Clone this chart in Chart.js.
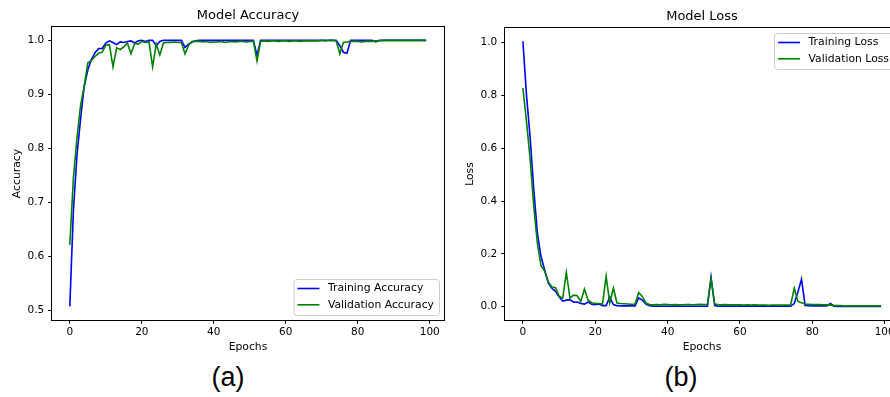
<!DOCTYPE html>
<html>
<head>
<meta charset="utf-8">
<script src="https://cdn.jsdelivr.net/npm/chart.js@4"></script>
<style>
html, body { margin: 0; padding: 0; background: #fff; overflow: hidden; }
body { width: 890px; height: 397px; position: relative; }
canvas { position: absolute; top: 0; }
#accChart { left: 0; }
#lossChart { left: 445px; }
.cap { position: absolute; top: 364px; font-family: 'Liberation Sans'; font-size: 27px; line-height: 27px; transform: translateX(-50%); color: #000; }
</style>
</head>
<body>
<canvas id="accChart" width="450" height="360" style="width:450px;height:360px"></canvas>
<canvas id="lossChart" width="460" height="360" style="width:460px;height:360px"></canvas>
<div class="cap" style="left:228px">(a)</div>
<div class="cap" style="left:681px">(b)</div>
<script>
// epochs 0..99
var epochs = Array.from({ length: 100 }, (_, i) => i);

var trainAcc = [
  0.507, 0.685, 0.788, 0.855, 0.915, 0.945, 0.965, 0.977, 0.985, 0.985,
  0.995, 0.999, 0.996, 0.992, 0.997, 0.996, 0.998, 0.999, 0.995, 0.999,
  1.000, 0.998, 1.000, 1.000, 0.990, 0.998, 1.000, 1.000, 1.000, 1.000,
  1.000, 1.000, 0.987, 0.993, 0.997, 0.999, 1.000, 1.000, 1.000, 1.000,
  1.000, 1.000, 1.000, 1.000, 1.000, 1.000, 1.000, 1.000, 1.000, 1.000,
  1.000, 1.000, 0.972, 1.000, 1.000, 1.000, 1.000, 1.000, 1.000, 1.000,
  1.000, 1.000, 1.000, 1.000, 1.000, 1.000, 1.000, 1.000, 1.000, 1.000,
  1.000, 1.000, 1.000, 1.000, 1.000, 0.990, 0.978, 0.976, 1.000, 1.000,
  1.000, 1.000, 1.000, 1.000, 1.000, 0.997, 1.000, 1.000, 1.000, 1.000,
  1.000, 1.000, 1.000, 1.000, 1.000, 1.000, 1.000, 1.000, 1.000, 1.000
];
var valAcc = [
  0.621, 0.745, 0.820, 0.880, 0.915, 0.958, 0.963, 0.970, 0.976, 0.978,
  0.991, 0.992, 0.951, 0.986, 0.983, 0.988, 0.995, 0.975, 0.994, 0.993,
  0.998, 0.996, 0.997, 0.951, 0.993, 0.973, 0.995, 0.996, 0.996, 0.997,
  0.996, 0.996, 0.975, 0.991, 0.998, 0.998, 0.998, 0.997, 0.998, 0.996,
  0.997, 0.997, 0.998, 0.996, 0.997, 0.998, 0.997, 0.998, 0.998, 0.997,
  0.998, 0.998, 0.962, 0.998, 0.999, 0.998, 0.999, 0.999, 0.998, 0.999,
  0.999, 0.998, 0.999, 0.999, 0.998, 0.999, 0.999, 0.999, 0.999, 0.999,
  1.000, 0.999, 1.000, 1.000, 0.999, 0.975, 0.996, 0.997, 0.998, 0.998,
  0.998, 0.997, 0.998, 0.998, 0.998, 0.999, 0.999, 1.000, 1.000, 1.000,
  1.000, 1.000, 1.000, 1.000, 1.000, 1.000, 1.000, 1.000, 1.000, 1.000
];
var trainLoss = [
  1.005, 0.800, 0.640, 0.445, 0.280, 0.190, 0.140, 0.090, 0.070, 0.058,
  0.038, 0.021, 0.025, 0.027, 0.017, 0.018, 0.012, 0.010, 0.018, 0.009,
  0.008, 0.010, 0.004, 0.004, 0.036, 0.008, 0.004, 0.003, 0.003, 0.003,
  0.003, 0.003, 0.033, 0.025, 0.010, 0.004, 0.002, 0.002, 0.002, 0.002,
  0.002, 0.002, 0.002, 0.002, 0.002, 0.002, 0.002, 0.002, 0.002, 0.002,
  0.002, 0.002, 0.112, 0.004, 0.002, 0.002, 0.002, 0.002, 0.002, 0.002,
  0.002, 0.002, 0.002, 0.002, 0.002, 0.002, 0.002, 0.002, 0.002, 0.002,
  0.002, 0.002, 0.002, 0.002, 0.002, 0.012, 0.055, 0.104, 0.005, 0.004,
  0.003, 0.003, 0.003, 0.003, 0.003, 0.012, 0.002, 0.001, 0.001, 0.001,
  0.001, 0.001, 0.001, 0.001, 0.001, 0.001, 0.001, 0.001, 0.001, 0.001
];
var valLoss = [
  0.828, 0.700, 0.560, 0.380, 0.240, 0.155, 0.135, 0.095, 0.075, 0.072,
  0.040, 0.032, 0.130, 0.033, 0.044, 0.042, 0.020, 0.067, 0.025, 0.015,
  0.012, 0.012, 0.010, 0.115, 0.014, 0.071, 0.014, 0.012, 0.011, 0.010,
  0.009, 0.010, 0.054, 0.039, 0.014, 0.008, 0.007, 0.008, 0.007, 0.009,
  0.008, 0.007, 0.008, 0.007, 0.007, 0.008, 0.008, 0.007, 0.008, 0.009,
  0.008, 0.009, 0.105, 0.010, 0.008, 0.007, 0.008, 0.007, 0.007, 0.007,
  0.007, 0.006, 0.007, 0.006, 0.007, 0.006, 0.006, 0.006, 0.005, 0.006,
  0.006, 0.006, 0.006, 0.006, 0.007, 0.070, 0.020, 0.015, 0.010, 0.009,
  0.008, 0.008, 0.008, 0.007, 0.007, 0.006, 0.004, 0.004, 0.004, 0.003,
  0.003, 0.003, 0.003, 0.003, 0.003, 0.003, 0.003, 0.003, 0.003, 0.003
];

var epochTicks = [0, 20, 40, 60, 80, 100];
var accTicks = [0.5, 0.6, 0.7, 0.8, 0.9, 1.0];
var lossTicks = [0.0, 0.2, 0.4, 0.6, 0.8, 1.0];

var FONT = 'DejaVu Sans';
Chart.defaults.color = '#000';
Chart.defaults.font.family = FONT;

function points(ys) {
  return epochs.map((e, i) => ({ x: e, y: ys[i] }));
}

// frame round the plot, title over it and a matplotlib style legend
var panelDecor = {
  id: 'panelDecor',
  afterDraw(chart, args, opts) {
    var ctx = chart.ctx, a = chart.chartArea;
    ctx.save();
    ctx.strokeStyle = '#000';
    ctx.lineWidth = 1;
    ctx.strokeRect(a.left - 0.5, a.top - 0.5, a.right - a.left + 1, a.bottom - a.top + 1);

    ctx.fillStyle = '#000';
    ctx.font = '13px ' + FONT;
    ctx.textAlign = 'center';
    ctx.textBaseline = 'middle';
    ctx.fillText(opts.title, (a.left + a.right) / 2, opts.titleY);

    // legend
    var sets = chart.data.datasets;
    ctx.font = '10.8px ' + FONT;
    var textW = Math.max.apply(null, sets.map(d => ctx.measureText(d.label).width));
    var pad = 4, handle = 22, gap = 8.5, rowH = 16.3;
    var w = pad + handle + gap + textW + 5;
    var h = 36;
    var bx = a.right - 5 - w;
    var by = opts.legendAt === 'upper' ? a.top + 5 : a.bottom - 5 - h;
    ctx.beginPath();
    ctx.roundRect(bx + 0.5, by + 0.5, w, h, 3);
    ctx.fillStyle = 'rgba(255,255,255,0.8)';
    ctx.fill();
    ctx.strokeStyle = '#cccccc';
    ctx.stroke();
    ctx.textAlign = 'left';
    sets.forEach((d, i) => {
      var cy = by + 9.5 + i * rowH;
      ctx.strokeStyle = d.borderColor;
      ctx.lineWidth = 1.6;
      ctx.beginPath();
      ctx.moveTo(bx + pad, cy);
      ctx.lineTo(bx + pad + handle, cy);
      ctx.stroke();
      ctx.fillStyle = '#000';
      ctx.fillText(d.label, bx + pad + handle + gap, cy);
    });
    ctx.restore();
  }
};

function makePanel(id, p) {
  return new Chart(document.getElementById(id), {
    type: 'line',
    data: {
      datasets: [
        { label: p.labels[0], data: points(p.train), borderColor: '#0000ff', borderWidth: 1.6, pointRadius: 0, fill: false, order: 1 },
        { label: p.labels[1], data: points(p.val), borderColor: '#008000', borderWidth: 1.6, pointRadius: 0, fill: false, order: 0 }
      ]
    },
    options: {
      responsive: false,
      animation: false,
      devicePixelRatio: 1,
      layout: { padding: { top: p.top, right: p.right, left: 0, bottom: 0 } },
      plugins: {
        legend: { display: false },
        tooltip: { enabled: false },
        panelDecor: { title: p.title, titleY: p.titleY, legendAt: p.legendAt }
      },
      scales: {
        x: {
          type: 'linear',
          min: -4.95,
          max: 103.95,
          afterBuildTicks: s => { s.ticks = epochTicks.map(v => ({ value: v })); },
          afterFit: s => { s.height = 40; },
          grid: { drawOnChartArea: false, color: '#000', tickLength: 3.8 },
          border: { display: false },
          ticks: { padding: 2, font: { size: 10.5 }, maxRotation: 0, callback: v => String(v) },
          title: { display: true, text: 'Epochs', font: { size: 10.8 }, padding: { top: 0, bottom: 6.5 } }
        },
        y: {
          min: p.yMin,
          max: p.yMax,
          afterBuildTicks: s => { s.ticks = p.yTicks.map(v => ({ value: v })); },
          afterFit: s => { s.width = p.yWidth; },
          grid: { drawOnChartArea: false, color: '#000', tickLength: 3.8 },
          border: { display: false },
          ticks: { padding: 4, font: { size: 10.5 }, callback: v => v.toFixed(1) },
          title: { display: true, text: p.yLabel, font: { size: 10.8 }, padding: { top: p.yTitlePad, bottom: 0 } }
        }
      }
    },
    plugins: [panelDecor]
  });
}

makePanel('accChart', {
  title: 'Model Accuracy', titleY: 16,
  labels: ['Training Accuracy', 'Validation Accuracy'],
  train: trainAcc, val: valAcc,
  yLabel: 'Accuracy', yTicks: accTicks, yMin: 0.4818, yMax: 1.0247,
  top: 27, right: 6, yWidth: 52, yTitlePad: 10.5, legendAt: 'lower'
});

makePanel('lossChart', {
  title: 'Model Loss', titleY: 16.5,
  labels: ['Training Loss', 'Validation Loss'],
  train: trainLoss, val: valLoss,
  yLabel: 'Loss', yTicks: lossTicks, yMin: -0.0503, yMax: 1.0553,
  top: 28, right: 6, yWidth: 60, yTitlePad: 18.5, legendAt: 'upper'
});
</script>
</body>
</html>
